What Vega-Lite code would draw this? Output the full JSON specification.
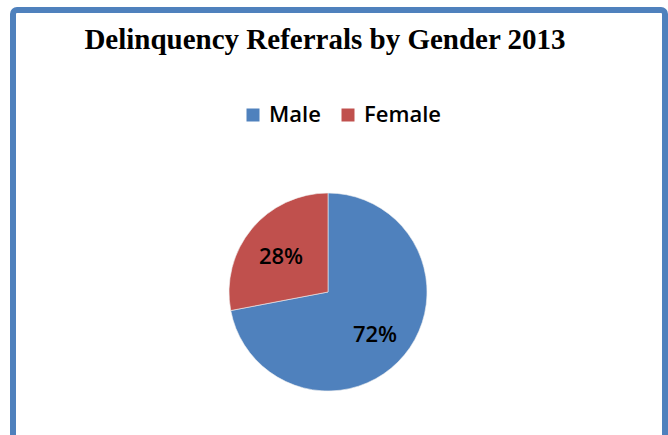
{
  "$schema": "https://vega.github.io/schema/vega-lite/v6.json",
  "width": 652,
  "height": 440,
  "autosize": {"type": "none"},
  "padding": {"left": 13, "top": 10, "right": 3, "bottom": 0},
  "background": "white",
  "view": {"stroke": "#4F81BD", "strokeWidth": 6, "cornerRadius": 4},
  "title": {
    "text": "Delinquency Referrals by Gender 2013",
    "font": "Liberation Serif",
    "fontSize": 29,
    "fontWeight": "bold",
    "color": "black",
    "anchor": "middle",
    "frame": "group",
    "orient": "top",
    "offset": -45,
    "dx": -14
  },
  "data": {"values": [
    {"gender": "Male", "share": 0.72},
    {"gender": "Female", "share": 0.28}
  ]},
  "encoding": {
    "theta": {"field": "share", "type": "quantitative", "stack": true},
    "order": {"field": "share", "sort": "descending"}
  },
  "layer": [
    {
      "mark": {"type": "arc", "outerRadius": 99, "x": {"expr": "width/2 - 11"}, "y": {"expr": "height/2 + 62"}, "stroke": "#f0f0f0", "strokeWidth": 0.6},
      "encoding": {
        "color": {
          "field": "gender", "type": "nominal",
          "scale": {"domain": ["Male", "Female"], "range": ["#4F81BD", "#C0504D"]},
          "legend": {
            "title": null,
            "orient": "none",
            "direction": "horizontal",
            "legendX": 229,
            "legendY": 94,
            "symbolType": "square",
            "symbolSize": 169,
            "symbolStrokeWidth": 0,
            "symbolOpacity": 1,
            "labelFont": "Open Sans",
            "labelFontSize": 22,
            "labelFontWeight": 600,
            "labelColor": "black",
            "labelOffset": 5,
            "columnPadding": 16
          }
        }
      }
    },
    {
      "mark": {"type": "text", "radius": 61, "x": {"expr": "width/2 - 11"}, "y": {"expr": "height/2 + 62"}, "dy": 4, "font": "Open Sans", "fontSize": 22, "fontWeight": 600, "color": "black", "baseline": "middle", "align": "center"},
      "encoding": {
        "text": {"field": "share", "type": "quantitative", "format": ".0%"}
      }
    }
  ]
}
